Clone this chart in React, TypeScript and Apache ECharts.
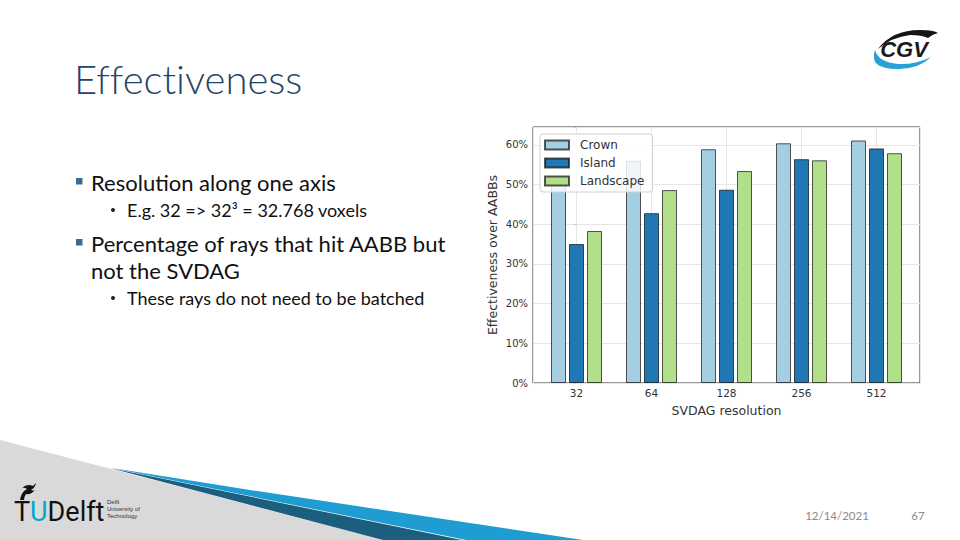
import React, { useEffect, useRef } from "react";
import * as echarts from "echarts";

const categories = ["32", "64", "128", "256", "512"];
const seriesNames = ["Crown", "Island", "Landscape"];
const crown = [51.0, 56.0, 58.9, 60.4, 61.1];
const island = [35.0, 42.8, 48.7, 56.4, 59.1];
const landscape = [38.3, 48.6, 53.4, 56.1, 57.9];
const seriesColors = ["#a6cee3", "#1f78b4", "#b2df8a"];

const flamePath =
  "M 20 500 Q 21 492 27 489 Q 24 487 22 488 Q 27 483 33 486 L 36 483 Q 35 488 31 490 Q 34 491 35 490 Q 31 495 26 494 Q 24 497 24 500 Z";
const cgvBlackPath =
  "M 878 49 Q 892 30 920 30 Q 934 30 938 33 Q 933 34 928 38 Q 922 35 910 35 Q 892 37 878 49 Z";
const cgvBluePath =
  "M 875 50 Q 868 70 900 69 Q 920 68 931 57 Q 915 65 898 64 Q 878 62 875 50 Z";

echarts.graphic.registerShape("flame", echarts.graphic.extendPath(flamePath, {}));
echarts.graphic.registerShape("cgvBlack", echarts.graphic.extendPath(cgvBlackPath, {}));
echarts.graphic.registerShape("cgvBlue", echarts.graphic.extendPath(cgvBluePath, {}));

export default function App() {
  const ref = useRef<HTMLDivElement>(null);
  useEffect(() => {
    if (!ref.current) return;
    const chart = echarts.init(ref.current, null, { renderer: "svg" });
    const mk = (vals: number[]) => vals.map((v, i) => [i, v]);
    const data = [crown, island, landscape];
    const bodyText = (x: number, y: number, text: string, size: number) => ({
      type: "text",
      x,
      y,
      style: { text, fontSize: size, fontFamily: "Lato", fill: "#111", verticalAlign: "middle" },
    });
    const titleStyle = { fontSize: 40, fontWeight: 300, fontFamily: "Lato", fill: "#1f4566" };
    const option: any = {
      animation: false,
      backgroundColor: "#ffffff",
      grid: {
        left: 533,
        top: 127,
        width: 387,
        height: 256,
        show: true,
        borderColor: "#333",
        borderWidth: 1,
        backgroundColor: "transparent",
      },
      legend: {
        orient: "vertical",
        left: 540,
        top: 134,
        itemWidth: 24,
        itemHeight: 9,
        itemGap: 6,
        padding: [5, 8, 5, 4],
        backgroundColor: "rgba(255,255,255,0.82)",
        borderColor: "#d0d0d0",
        borderWidth: 1,
        borderRadius: 3,
        icon: "rect",
        data: seriesNames,
        textStyle: {
          fontSize: 12,
          lineHeight: 12,
          color: "#333",
          fontFamily: "DejaVu Sans",
          padding: [0, 0, 0, 6],
        },
      },
      xAxis: {
        type: "value",
        min: -0.58,
        max: 4.58,
        minInterval: 1,
        maxInterval: 1,
        name: "SVDAG resolution",
        nameLocation: "middle",
        nameGap: 21,
        nameTextStyle: { fontSize: 12.5, color: "#333", fontFamily: "DejaVu Sans" },
        axisLine: { show: false },
        axisTick: { show: false },
        axisLabel: {
          margin: 4,
          fontSize: 10.5,
          color: "#333",
          fontFamily: "DejaVu Sans",
          formatter: (v: number) => {
            const r = Math.round(v);
            return Math.abs(v - r) < 1e-6 && r >= 0 && r < categories.length ? categories[r] : "";
          },
        },
        splitLine: { show: true, lineStyle: { color: "#e6e6e6", width: 1 } },
      },
      yAxis: {
        type: "value",
        min: 0,
        max: 64.5,
        interval: 10,
        name: "Effectiveness over AABBs",
        nameLocation: "middle",
        nameGap: 34,
        nameRotate: 90,
        nameTextStyle: { fontSize: 12.5, color: "#333", fontFamily: "DejaVu Sans" },
        axisLine: { show: false },
        axisTick: { show: true, length: 3, lineStyle: { color: "#ccc" } },
        axisLabel: {
          margin: 5,
          fontSize: 10,
          color: "#333",
          fontFamily: "DejaVu Sans",
          formatter: (v: number) => (Math.abs(v % 10) < 1e-6 ? v + "%" : ""),
        },
        splitLine: { show: true, lineStyle: { color: "#e6e6e6", width: 1 } },
      },
      series: seriesNames.map((name, k) => ({
        name,
        type: "bar",
        data: mk(data[k]),
        barWidth: 15,
        barGap: "20%",
        itemStyle: {
          color: seriesColors[k],
          borderColor: "rgba(0,0,0,0.65)",
          borderWidth: 1,
        },
      })),
      graphic: [
        {
          type: "polygon",
          z: 0,
          shape: { points: [[0, 440], [383, 540], [0, 540]] },
          style: { fill: "#d9d9d9" },
        },
        {
          type: "polygon",
          z: 0,
          shape: { points: [[110, 468], [383, 540], [462, 540]] },
          style: { fill: "#1b5e7e" },
        },
        {
          type: "polygon",
          z: 0,
          shape: { points: [[112, 468], [250, 490], [583, 540], [466, 540]] },
          style: { fill: "#1f9dd2" },
        },
        {
          type: "text",
          x: 14,
          y: 512,
          style: {
            text: "{t|T}{u|U}{d|Delft}",
            verticalAlign: "middle",
            align: "left",
            rich: {
              t: { fontSize: 27, fontFamily: "Roboto", fill: "#111" },
              u: { fontSize: 27, fontFamily: "Roboto", fill: "#00a6d6" },
              d: { fontSize: 27, fontFamily: "Roboto", fill: "#111" },
            },
          },
        },
        { type: "flame", x: 0, y: 0, style: { fill: "#111" } },
        {
          type: "text",
          x: 107,
          y: 502,
          style: { text: "Delft", fontSize: 6, fontFamily: "Liberation Sans", fill: "#333", verticalAlign: "middle" },
        },
        {
          type: "text",
          x: 107,
          y: 509,
          style: { text: "University of", fontSize: 6, fontFamily: "Liberation Sans", fill: "#333", verticalAlign: "middle" },
        },
        {
          type: "text",
          x: 107,
          y: 516,
          style: { text: "Technology", fontSize: 6, fontFamily: "Liberation Sans", fill: "#333", verticalAlign: "middle" },
        },
        { type: "cgvBlack", x: 0, y: 0, style: { fill: "#151515" } },
        { type: "cgvBlue", x: 0, y: 0, style: { fill: "#2aa0d8" } },
        {
          type: "text",
          x: 904,
          y: 49,
          style: {
            text: "CGV",
            fontSize: 22,
            fontWeight: "bold",
            fontStyle: "italic",
            fontFamily: "Liberation Sans",
            fill: "#1a1a1a",
            align: "center",
            verticalAlign: "middle",
          },
        },
        {
          type: "text",
          x: 74,
          y: 79,
          style: {
            text: "{a|Ef}{a|fec}{a|t}{a|iveness}",
            verticalAlign: "middle",
            rich: { a: titleStyle },
          },
        },
        { type: "rect", shape: { x: 76, y: 178, width: 6.5, height: 6.5 }, style: { fill: "#3d6a93" } },
        { type: "rect", shape: { x: 76, y: 239, width: 6.5, height: 6.5 }, style: { fill: "#3d6a93" } },
        { type: "circle", shape: { cx: 113, cy: 210, r: 2 }, style: { fill: "#222" } },
        { type: "circle", shape: { cx: 113, cy: 298, r: 2 }, style: { fill: "#222" } },
        bodyText(91, 182, "Resolution along one axis", 22),
        bodyText(127, 210, "E.g. 32 => 32³ = 32.768 voxels", 18),
        bodyText(91, 243, "Percentage of rays that hit AABB but", 22),
        bodyText(91, 270, "not the SVDAG", 22),
        bodyText(127, 298, "These rays do not need to be batched", 18),
        {
          type: "text",
          x: 837,
          y: 515,
          style: { text: "12/14/2021", fontSize: 11.5, fontFamily: "Lato", fill: "#8a8a8a", align: "center", verticalAlign: "middle" },
        },
        {
          type: "text",
          x: 918,
          y: 515,
          style: { text: "67", fontSize: 11.5, fontFamily: "Lato", fill: "#8a8a8a", align: "center", verticalAlign: "middle" },
        },
      ],
    };
    chart.setOption(option);
    return () => chart.dispose();
  }, []);
  return (
    <div
      ref={ref}
      style={{ position: "fixed", left: 0, top: 0, width: 960, height: 540, background: "#fff" }}
    />
  );
}
